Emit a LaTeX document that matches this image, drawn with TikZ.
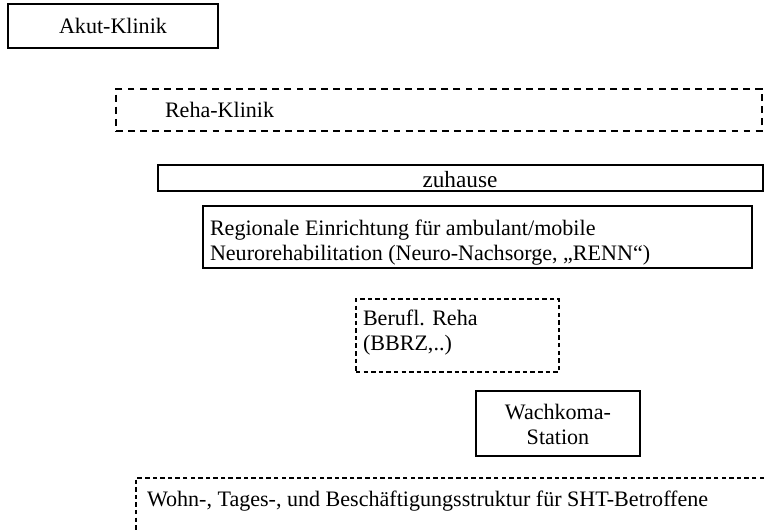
\documentclass[tikz,border=0pt]{standalone}
\usepackage{fontspec}
\setmainfont{Liberation Serif}
\newdimen\pxu \pxu=0.58pt
\tikzset{
  frame/.style={draw, line width=0.6pt, inner sep=0pt, outer sep=0pt, anchor=north west},
  heavyframe/.style={frame, line width=1.2pt},
  heavydash/.style={heavyframe, dash pattern=on 4pt off 3pt},
  lightdash/.style={frame, dash pattern=on 2.6pt off 1.8pt},
  label/.style={inner sep=0pt, outer sep=0pt},
}
\begin{document}
\begin{tikzpicture}[x=0.58pt,y=-0.58pt, font=\fontsize{12.8}{14.8}\selectfont]
\useasboundingbox (0,0) rectangle (764,531);
% Akut-Klinik
\node[heavyframe, minimum width=210\pxu, minimum height=44\pxu] (akut) at (8,4) {};
\node[label] (akutt) at (akut.center) {Akut-Klinik};
% Reha-Klinik
\node[heavydash, minimum width=646\pxu, minimum height=42\pxu] (reha) at (116,89) {};
\node[label, anchor=west] (rehat) at (165,110) {Reha-Klinik};
% zuhause
\node[frame, minimum width=605\pxu, minimum height=26\pxu] (home) at (158,165) {};
\node[label, font=\fontsize{13.5}{16}\selectfont] (homet) at (460,180) {zuhause};
% Regionale Einrichtung
\node[frame, minimum width=549\pxu, minimum height=62\pxu] (renn) at (203,206) {};
\node[label, anchor=west, align=left] (rennt) at (210,242.5) {Regionale Einrichtung für ambulant/mobile\\Neurorehabilitation (Neuro-Nachsorge, „RENN“)};
% Berufl. Reha
\node[lightdash, minimum width=203\pxu, minimum height=73\pxu] (beruf) at (356,299) {};
\node[label, anchor=west, align=left] (beruft) at (363,332.5) {Berufl. Reha\\(BBRZ,..)};
% Wachkoma
\node[frame, minimum width=164\pxu, minimum height=65\pxu] (koma) at (476,391) {};
\node[label, align=center] (komat) at (558,424.5) {Wachkoma-\\Station};
% Wohn-, Tages-, ...
\coordinate (wtr) at (764,478);
\coordinate (wbl) at (136,531);
\draw[line width=0.6pt, dash pattern=on 2.6pt off 1.8pt] (wtr) -| (wbl);
\node[label, anchor=west] (wohnt) at (147,501) {Wohn-, Tages-, und Beschäftigungsstruktur für SHT-Betroffene};
\end{tikzpicture}
\end{document}
